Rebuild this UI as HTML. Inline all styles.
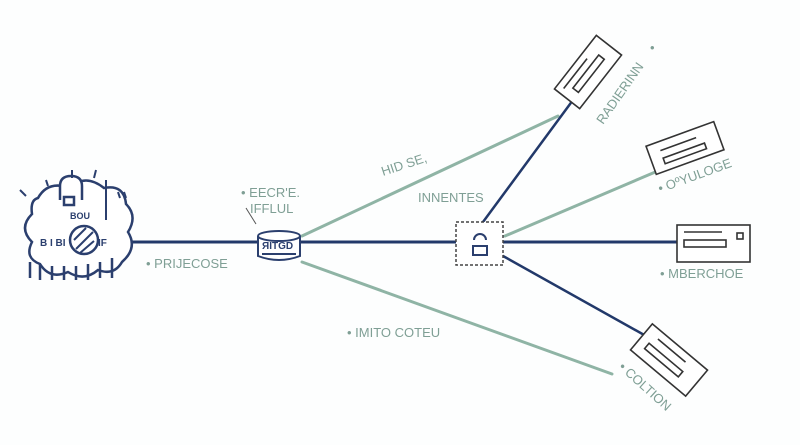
<!DOCTYPE html>
<html><head><style>
html,body{margin:0;padding:0;background:#fff;}
svg{display:block;}
text{font-family:"Liberation Sans",sans-serif;}
</style></head><body>
<svg width="800" height="445" viewBox="0 0 800 445" xmlns="http://www.w3.org/2000/svg">
<rect width="800" height="445" fill="#fdfefe"/>
<g stroke-linecap="round" fill="none">
<line x1="302" y1="236" x2="558" y2="116" stroke="#8fb4a5" stroke-width="3"/>
<line x1="302" y1="262" x2="612" y2="374" stroke="#8fb4a5" stroke-width="3"/>
<line x1="505" y1="236" x2="660" y2="170" stroke="#8fb4a5" stroke-width="3"/>
<line x1="125" y1="242" x2="258" y2="242" stroke="#22396a" stroke-width="3"/>
<line x1="300" y1="242" x2="456" y2="242" stroke="#22396a" stroke-width="3"/>
<line x1="503" y1="242" x2="678" y2="242" stroke="#22396a" stroke-width="3"/>
<line x1="483" y1="222" x2="573" y2="100" stroke="#22396a" stroke-width="2.5"/>
<line x1="503" y1="256" x2="646" y2="336" stroke="#22396a" stroke-width="2.5"/>
</g>
<g stroke="#2b3f6e" stroke-width="2.5" fill="#fff">
<path d="M38,198 q10,-18 32,-10 q15,-15 34,0 q20,-4 22,16 q12,12 2,28 q10,16 -6,30 q-8,14 -24,8 q-14,12 -30,2 q-18,8 -28,-8 q-16,-6 -8,-22 q-14,-14 0,-28 q-2,-14 6,-16z"/>
<path d="M60,200 v-14 q0,-10 11,-10 q11,0 11,10 v14" />
<rect x="64" y="197" width="10" height="8"/>
<circle cx="84" cy="240" r="14"/>
<path d="M76,249 l17,-17 M74,240 l12,-12 M80,253 l14,-12" stroke-width="2"/>
<path d="M30,262 v16 M40,264 v16 M52,266 v14 M64,266 v14 M76,266 v14 M88,264 v16 M100,262 v16 M112,258 v20" fill="none" stroke-width="2.5"/>
<path d="M20,190 l6,6 M46,180 l2,6 M72,170 v8 M96,170 l-2,8 M106,180 v40 M118,192 l2,6 M124,192 l2,6" fill="none" stroke-width="2"/>
</g>
<text x="70" y="219" font-size="9" fill="#2b3f6e" font-weight="bold">BOU</text>
<text x="40" y="246" font-size="10" fill="#2b3f6e" font-weight="bold">B I BI</text>
<text x="98" y="246" font-size="10" fill="#2b3f6e" font-weight="bold">IF</text>
<g stroke="#2b3f6e" stroke-width="2" fill="#fff">
<path d="M258,236 v20 q21,8 42,0 v-20"/>
<ellipse cx="279" cy="236" rx="21" ry="5"/>
<line x1="262" y1="254" x2="296" y2="254"/>
</g>
<text x="262" y="249" font-size="10" fill="#2b3f6e" font-weight="bold">ЯITGD</text>
<rect x="456" y="222" width="47" height="43" fill="#fff" stroke="#444" stroke-width="1.5" stroke-dasharray="3,2"/>
<path d="M474,240 a6,6 0 1 1 12,0" fill="none" stroke="#2b3f6e" stroke-width="2"/>
<rect x="473" y="246" width="14" height="9" fill="none" stroke="#2b3f6e" stroke-width="2"/>
<g stroke="#333" stroke-width="1.6" fill="#fff">
<g transform="translate(588,72) rotate(-52)"><rect x="-34" y="-16" width="68" height="32"/><rect x="-22" y="-2" width="42" height="7" fill="none"/><line x1="-28" y1="-9" x2="10" y2="-9"/></g>
<g transform="translate(685,148) rotate(-20)"><rect x="-36" y="-15" width="72" height="30"/><rect x="-24" y="2" width="44" height="6" fill="none"/><line x1="-24" y1="-6" x2="14" y2="-6"/></g>
<g><rect x="677" y="225" width="73" height="37"/><rect x="684" y="240" width="42" height="7" fill="none"/><line x1="684" y1="232" x2="722" y2="232"/><rect x="737" y="233" width="6" height="6"/></g>
<g transform="translate(669,360) rotate(40)"><rect x="-36" y="-17" width="72" height="34"/><rect x="-26" y="0" width="44" height="7" fill="none"/><line x1="-22" y1="-9" x2="14" y2="-9"/></g>
</g>
<g fill="#7f9f95" font-size="13">
<text x="0" y="0" transform="translate(603,125) rotate(-55)">RADIERINN</text>
<text x="650" y="52">•</text>
<text x="0" y="0" transform="translate(660,193) rotate(-20)">• OºYULOGE</text>
<text x="660" y="278">• MBERCHOE</text>
<text x="0" y="0" transform="translate(618,368) rotate(42)">• COLTION</text>
<text x="0" y="0" transform="translate(383,176) rotate(-18)">HID SE,</text>
<text x="418" y="202">INNENTES</text>
<text x="241" y="197">• EECR'E.</text>
<text x="250" y="213">IFFLUL</text>
<text x="146" y="268">• PRIJECOSE</text>
<text x="347" y="337">• IMITO COTEU</text>
</g>
<line x1="246" y1="208" x2="256" y2="224" stroke="#555" stroke-width="1"/>
</svg>
</body></html>
